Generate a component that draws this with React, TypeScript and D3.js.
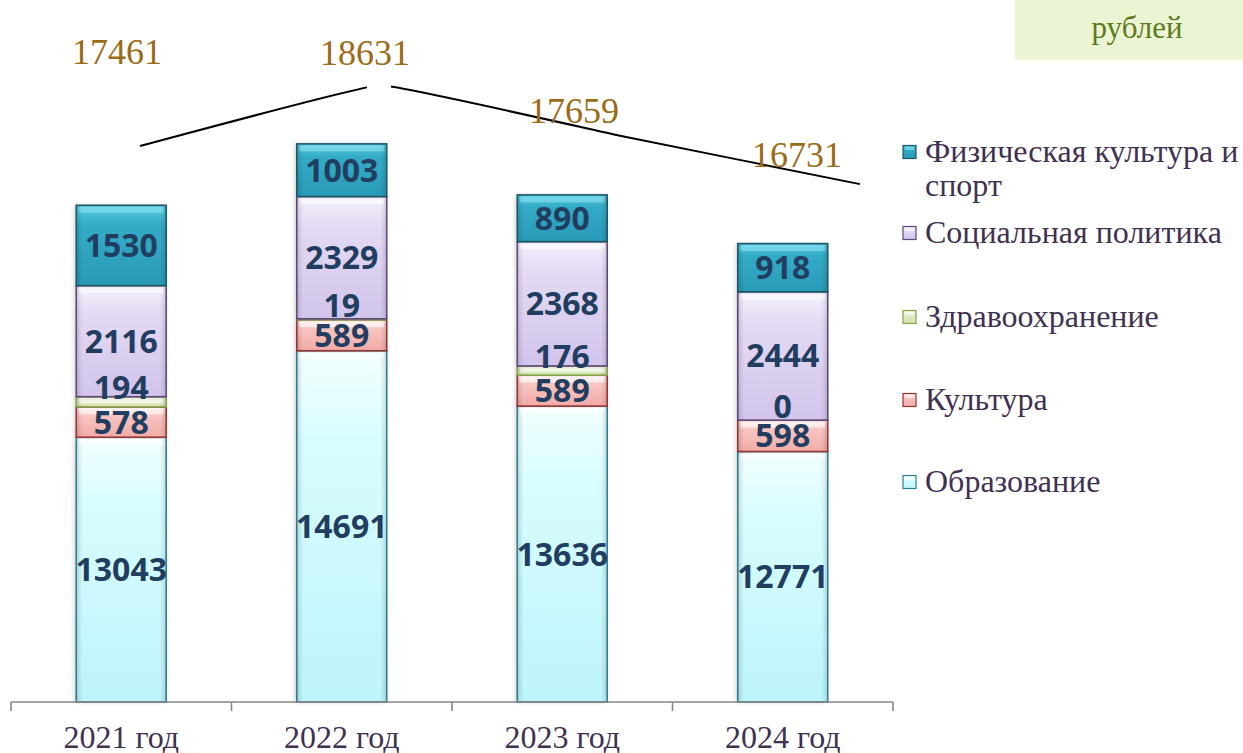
import React from 'react';
import * as d3 from 'd3';

// ---------- data ----------
const years = ['2021 год', '2022 год', '2023 год', '2024 год'];
const education = [13043, 14691, 13636, 12771];
const culture = [578, 589, 589, 598];
const health = [194, 19, 176, 0];
const social = [2116, 2329, 2368, 2444];
const sport = [1530, 1003, 890, 918];
const totals = [17461, 18631, 17659, 16731];
const seriesKeys = ['education', 'culture', 'health', 'social', 'sport'];
const seriesNames = ['Образование', 'Культура', 'Здравоохранение', 'Социальная политика', 'Физическая культура и спорт'];
const unitLabel = 'рублей';
const yDomain = [8000, 20000];
const y2Domain = [15000, 20000];

// ---------- styles / layout ----------
const W = 1243;
const H = 753;
const styles: Record<string, { top: string; mid: string; bottom: string; stroke: string; hi: string }> = {
  education: { top: '#F2FFFF', mid: '#D9FDFF', bottom: '#BDF4FB', stroke: '#2F7F90', hi: '#FFFFFF' },
  culture: { top: '#FFF0EF', mid: '#F8C6C3', bottom: '#F2ABA7', stroke: '#963534', hi: '#FFFFFF' },
  health: { top: '#F4F8EA', mid: '#E3EDCD', bottom: '#D3E2B2', stroke: '#86A248', hi: '#FFFFFF' },
  social: { top: '#F5F0FC', mid: '#E4DAF4', bottom: '#D2C4EB', stroke: '#5F497A', hi: '#FFFFFF' },
  sport: { top: '#5CCBE2', mid: '#33ABC7', bottom: '#2A9AB6', stroke: '#1D5866', hi: '#8FE6F4' },
};
const labelColor = '#213D5F';
const textColor = '#3F3151';
const totalColor = '#9B6B17';
const healthLabelShift = -14;
const totalLabelOffset = [[-23, -82], [-15, -20], [-46, -13], [-63, -17]];

export default function App() {
  const rows = years.map((year, i) => ({
    year,
    education: education[i],
    culture: culture[i],
    health: health[i],
    social: social[i],
    sport: sport[i],
  }));
  const stacked = d3.stack<any>().keys(seriesKeys)(rows);

  const x = d3.scaleBand<string>().domain(years).range([11, 893]).paddingInner(0.592).paddingOuter(0.296);
  const y = d3.scaleLinear().domain(yDomain).range([702, 72]);
  const base = y(yDomain[0]);

  const x2 = d3.scalePoint<string>().domain(years).range([140, 860]);
  const y2 = d3.scaleLinear().domain(y2Domain).range([274.3, 13.8]);
  const linePath = d3
    .line<number>()
    .x((_, i) => x2(years[i]) as number)
    .y((d) => y2(d))
    .curve(d3.curveCardinal.tension(0.8))(totals) as string;

  const step = x.step();
  const tickXs = d3.range(years.length + 1).map((i) => 11 + i * step);
  const peakIdx = d3.maxIndex(totals);

  const legendYs = [152, 233, 317, 400, 482];
  const legendOrder = [...seriesKeys].reverse();
  const legendNames = [...seriesNames].reverse();

  return (
    <svg width={W} height={H} style={{ position: 'absolute', left: 0, top: 0, background: '#fff' }}>
      <defs>
        {seriesKeys.map((k) => (
          <linearGradient key={k} id={`g-${k}`} x1="0" y1="0" x2="0" y2="1">
            <stop offset="0" stopColor={styles[k].top} />
            <stop offset="0.25" stopColor={styles[k].mid} />
            <stop offset="1" stopColor={styles[k].bottom} />
          </linearGradient>
        ))}
        <linearGradient id="edge" x1="0" y1="0" x2="1" y2="0">
          <stop offset="0" stopColor="#000" stopOpacity="0.14" />
          <stop offset="0.07" stopColor="#000" stopOpacity="0" />
          <stop offset="0.93" stopColor="#000" stopOpacity="0" />
          <stop offset="1" stopColor="#000" stopOpacity="0.14" />
        </linearGradient>
        <filter id="shadow" x="-20%" y="-5%" width="140%" height="110%">
          <feDropShadow dx="-2" dy="0" stdDeviation="2" floodColor="#000" floodOpacity="0.18" />
        </filter>
      </defs>

      {/* unit box */}
      <rect x={1015} y={0} width={228} height={60} fill="#EBF5D3" />
      <text x={1137} y={38} textAnchor="middle" fontFamily="'Liberation Serif', serif" fontSize={31} fill="#5E7A1E">
        {unitLabel}
      </text>

      {/* bars */}
      {stacked.map((layer) => {
        const k = layer.key;
        const st = styles[k];
        return (
          <g key={k}>
            {layer.map((d, i) => {
              const top = y(d[1]);
              const bot = Math.min(y(d[0]), base);
              const h = Math.max(0, bot - top);
              const bx = x(years[i]) as number;
              const bw = x.bandwidth();
              if (h <= 0) return null;
              const band = Math.min(6, h / 2);
              return (
                <g key={i}>
                  <rect x={bx} y={top} width={bw} height={h} fill={`url(#g-${k})`} filter="url(#shadow)" />
                  <rect x={bx} y={top} width={bw} height={h} fill="url(#edge)" />
                  <rect x={bx + 3} y={top + 1.5} width={bw - 6} height={band} fill={st.hi} opacity={0.55} />
                  <rect x={bx} y={top} width={bw} height={h} fill="none" stroke={st.stroke} strokeWidth={1.6} />
                </g>
              );
            })}
          </g>
        );
      })}

      {/* segment labels */}
      {stacked.map((layer) => (
        <g key={`l-${layer.key}`}>
          {layer.map((d, i) => {
            const top = y(d[1]);
            const bot = Math.min(y(d[0]), base);
            const cy = (top + bot) / 2 + (layer.key === 'health' ? healthLabelShift : 0);
            const v = (d.data as any)[layer.key];
            return (
              <text
                key={i}
                x={(x(years[i]) as number) + x.bandwidth() / 2}
                y={cy}
                dy="0.36em"
                textAnchor="middle"
                fontFamily="'Open Sans', sans-serif"
                fontWeight={700}
                fontSize={32}
                fill={labelColor}
              >
                {v}
              </text>
            );
          })}
        </g>
      ))}

      {/* axis */}
      <line x1={11} x2={893} y1={702} y2={702} stroke="#868686" strokeWidth={1.6} />
      {tickXs.map((tx, i) => (
        <line key={i} x1={tx} x2={tx} y1={702} y2={711} stroke="#868686" strokeWidth={1.6} />
      ))}
      {years.map((yr) => (
        <text
          key={yr}
          x={(x(yr) as number) + x.bandwidth() / 2}
          y={748}
          textAnchor="middle"
          fontFamily="'Liberation Serif', serif"
          fontSize={32}
          fill={textColor}
        >
          {yr}
        </text>
      ))}

      {/* totals line */}
      <path d={linePath} fill="none" stroke="#000" strokeWidth={2} />
      <rect x={(x2(years[peakIdx]) as number) - 13} y={y2(totals[peakIdx]) - 14} width={24} height={18} fill="#fff" />
      {totals.map((t, i) => (
        <text
          key={i}
          x={(x2(years[i]) as number) + totalLabelOffset[i][0]}
          y={y2(t) + totalLabelOffset[i][1]}
          textAnchor="middle"
          fontFamily="'Liberation Serif', serif"
          fontSize={36}
          fill={totalColor}
        >
          {t}
        </text>
      ))}

      {/* legend */}
      {legendOrder.map((k, i) => {
        const st = styles[k];
        const ly = legendYs[i];
        const name = legendNames[i];
        const lines = k === 'sport' ? ['Физическая культура и', 'спорт'] : [name];
        return (
          <g key={k}>
            <rect x={903} y={ly - 6.5} width={13} height={13} fill={`url(#g-${k})`} stroke={st.stroke} strokeWidth={1.2} />
            <rect x={905} y={ly - 5} width={9} height={3} fill={st.hi} opacity={0.6} />
            {lines.map((ln, j) => (
              <text
                key={j}
                x={925}
                y={ly + 10 + j * 34}
                fontFamily="'Liberation Serif', serif"
                fontSize={32}
                fill={textColor}
              >
                {ln}
              </text>
            ))}
          </g>
        );
      })}
    </svg>
  );
}
